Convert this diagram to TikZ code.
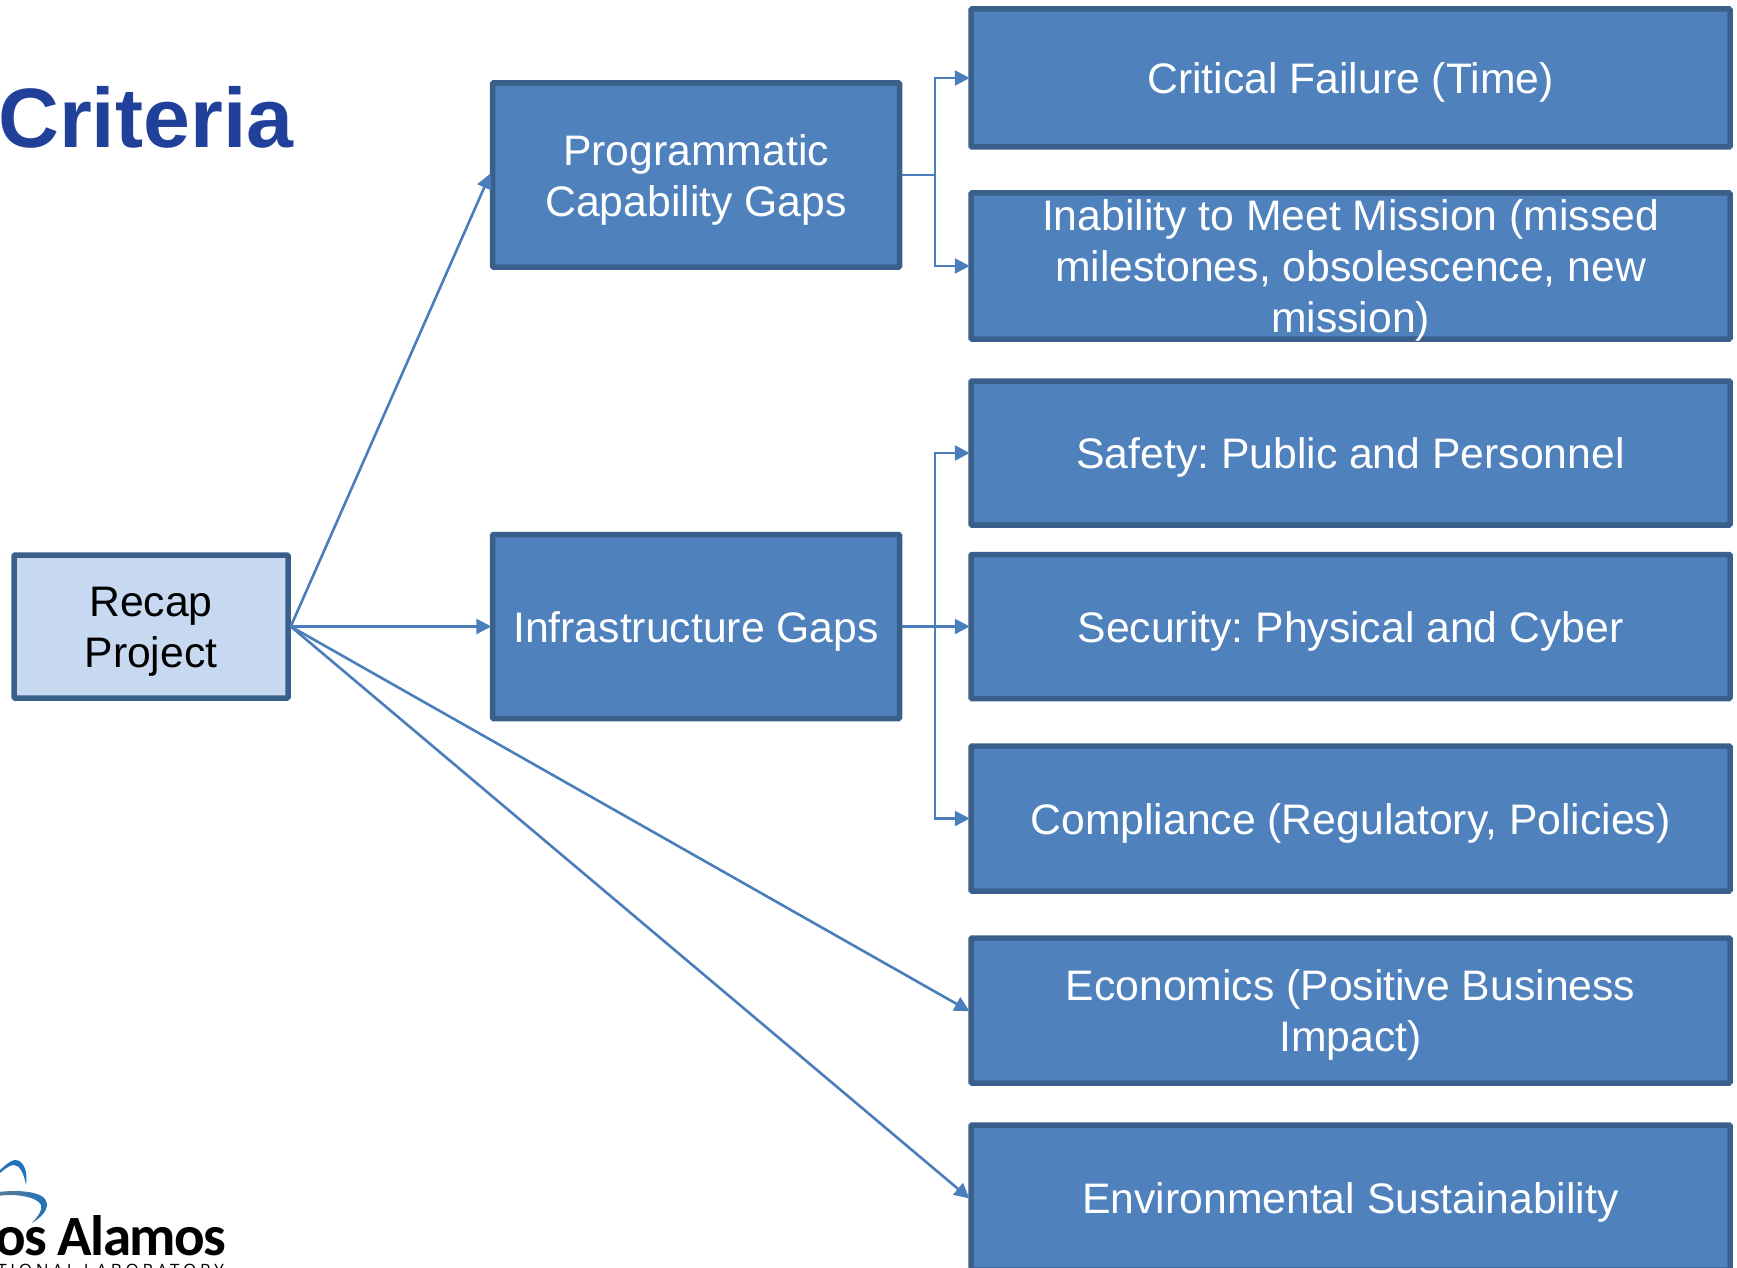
\documentclass[tikz,border=0pt]{standalone}
\usepackage{fontspec}
\setmainfont{Liberation Sans}
\newfontfamily\logofont[LetterSpace=-3]{Carlito}
\newfontfamily\logosmallfont[LetterSpace=22]{Open Sans}
\usetikzlibrary{arrows.meta, positioning}
\definecolor{boxblue}{HTML}{4F81BD}
\definecolor{boxedge}{HTML}{3A5F8B}
\definecolor{boxlight}{HTML}{C6D9F1}
\definecolor{connblue}{HTML}{4A7EBB}
\definecolor{titleblue}{HTML}{214099}
\definecolor{logoblue}{HTML}{2272B9}
\frenchspacing

\newcommand{\xtop}{\rule{0pt}{40pt}}

\tikzset{
	box/.style={draw=boxedge, fill=boxblue, line width=5.5pt, rounded corners=1pt, inner sep=0pt, align=center,
		text=white, font=\fontsize{42.7}{51}\selectfont},
	lightbox/.style={box, fill=boxlight, text=black},
	conn/.style={draw=connblue, line width=2.6pt, shorten >=-1.5pt, -{Triangle[length=15pt, width=15pt]}},
	busline/.style={draw=connblue, line width=2.6pt},
}

\begin{document}
\begin{tikzpicture}[x=1pt, y=-1pt]

\def \xw{759pt}  % right column
\def \xm{407pt}  % middle column
\def \xbus{935}  % elbow lines

\useasboundingbox (0,0) rectangle (1737,1268);
\clip (0,0) rectangle (1737,1268);

\node[anchor=base west, inner sep=0pt, text=titleblue, font=\fontsize{84.3}{85}\selectfont\bfseries] (title) at (-2,148) {Criteria};

\node[lightbox, minimum width=274pt, minimum height=143pt] (recap) at (151,626.5) {\xtop Recap\\Project};

\node[box, minimum width=\xm, minimum height=184pt] (prog)  at (696,175) {\xtop Programmatic\\Capability Gaps};
\node[box, minimum width=\xm, minimum height=184pt] (infra) at (696,626.5) {\xtop Infrastructure Gaps};

\node[box, minimum width=\xw, minimum height=138pt] (crit)     at (1350.5,78)  {\xtop Critical Failure (Time)};
\node[box, minimum width=\xw, minimum height=146pt, inner ysep=-8pt] (mission)  at (1350.5,266) {\xtop Inability to Meet Mission (missed\\milestones, obsolescence, new\\mission)};
\node[box, minimum width=\xw, minimum height=144pt] (safety)   at (1350.5,453) {\xtop Safety: Public and Personnel};
\node[box, minimum width=\xw, minimum height=144pt] (security) at (1350.5,626.5) {\xtop Security: Physical and Cyber};
\node[box, minimum width=\xw, minimum height=145pt] (compl)    at (1350.5,818.5) {\xtop Compliance (Regulatory, Policies)};
\node[box, minimum width=\xw, minimum height=145pt] (econ)     at (1350.5,1010.5) {\xtop Economics (Positive Business\\Impact)};
\node[box, minimum width=\xw, minimum height=145pt] (env)      at (1350.5,1197.5) {\xtop Environmental Sustainability};

\coordinate (prog bus)  at (\xbus,175);
\coordinate (infra bus) at (\xbus,626.5);

\foreach \xt in {prog, infra, econ, env} {
	\draw[conn] (recap.east) -- (\xt.west);
}

\draw[busline] (prog.east) -- (prog bus);
\foreach \xt in {crit, mission} {
	\draw[conn] (prog bus) |- (\xt.west);
}

\draw[busline] (infra.east) -- (infra bus);
\foreach \xt in {safety, compl} {
	\draw[conn] (infra bus) |- (\xt.west);
}
\draw[conn] (infra bus) -- (security.west);

% logo
\fill[logoblue] (-2,1172) .. controls (6,1164) and (12,1160) .. (15,1160) .. controls (24,1160) and (28,1172) .. (26,1185) .. controls (24,1174) and (20,1165) .. (14,1165) .. controls (10,1165) and (4,1169) .. (-2,1175) -- cycle;
\shade[left color=gray!60!logoblue, right color=logoblue] (-2,1192) .. controls (15,1190) and (46,1190) .. (47,1204) .. controls (47,1212) and (40,1218) .. (32,1223) .. controls (38,1216) and (43,1210) .. (41,1205) .. controls (38,1197) and (15,1193) .. (-2,1196) -- cycle;
\node[anchor=base east, inner sep=0pt, font=\fontsize{57}{57}\selectfont\logofont\bfseries] (logo) at (226,1255) {os Alamos};
\node[anchor=base east, inner sep=0pt, font=\fontsize{17}{17}\selectfont\logosmallfont] (lab) at (224,1276) {TIONAL LABORATORY};

\end{tikzpicture}
\end{document}
